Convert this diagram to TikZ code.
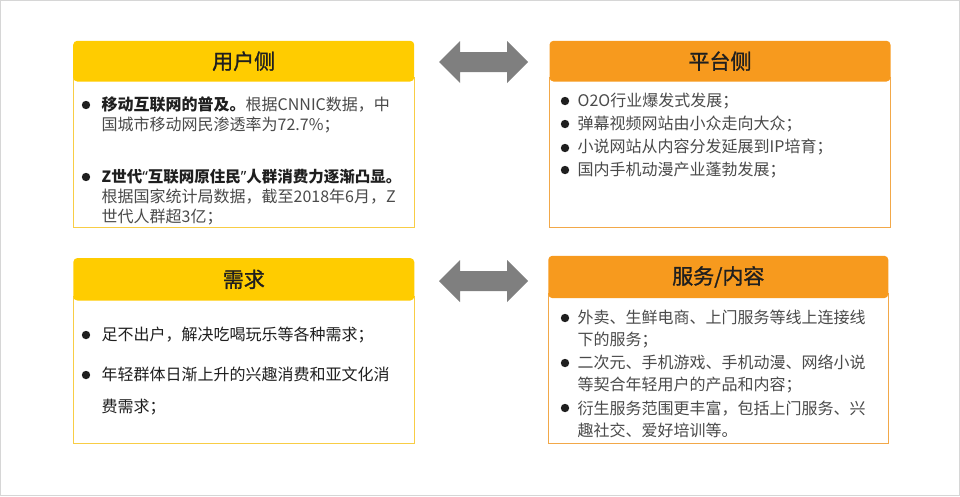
\documentclass[tikz,border=0pt]{standalone}
\usepackage{fontspec}
\setmainfont{Noto Sans CJK SC}
\newfontfamily\latin{Noto Sans}
\newfontfamily\hdfont{Noto Sans CJK SC}[FakeBold=1.2]
\usetikzlibrary{positioning}
\definecolor{ylw}{HTML}{FFCC00}
\definecolor{org}{HTML}{F79A1E}
\definecolor{ylwl}{HTML}{F8CD45}
\definecolor{orgl}{HTML}{F2A849}
\definecolor{arrg}{HTML}{7F7F7F}
\definecolor{txt}{HTML}{4A4A4A}
\definecolor{dark}{HTML}{1F1F1F}
\definecolor{framec}{HTML}{D6D6D6}
\tikzset{
  head/.style={rounded corners=4pt,minimum width=341pt,inner sep=0pt,font=\hdfont\fontsize{21}{24}\selectfont,text=dark},
  body/.style={draw,line width=1pt,minimum width=341pt,inner sep=0pt,fill=white,anchor=north},
  item/.style={anchor=west,align=left,inner sep=0pt,text=txt}
}
\newcommand{\dbl}[1]{\fill[arrg,shift={(#1)}] (-44.5,0)--(-23.5,-21)--(-23.5,-10)--(23.5,-10)--(23.5,-21)--(44.5,0)
  --(23.5,21)--(23.5,10)--(-23.5,10)--(-23.5,21)--cycle;}

\begin{document}
\begin{tikzpicture}[x=1pt,y=-1pt]
\useasboundingbox (0,0) rectangle (960,496);
\draw[framec] (0.5,0.5) rectangle (959.5,495.5);
% user side
\node[body,draw=ylwl,minimum height=150pt] (userb) at (243.7,76.7) {};
\node[head,fill=ylw,minimum height=40.7pt,above=-5pt of userb.north] (userh) {用户侧};
% platform side
\node[body,draw=orgl,minimum height=150pt] (platb) at (720,76.7) {};
\node[head,fill=org,minimum height=40.7pt,above=-5pt of platb.north] (plath) {平台侧};
% demand
\node[body,draw=ylwl,minimum height=147.6pt] (needb) at (243.8,295.7) {};
\node[head,fill=ylw,minimum height=42.4pt,above=-5pt of needb.north] (needh) {需求};
% service / content
\node[body,draw=orgl,minimum height=149.4pt,minimum width=340pt] (servb) at (718.3,293.3) {};
\node[head,fill=org,minimum height=42.3pt,minimum width=340pt,above=-5pt of servb.north] (servh) {服务/内容};
% arrows
\coordinate (arrtop) at (483.5,62);
\coordinate (arrbot) at (483.5,281);
\dbl{arrtop} \dbl{arrbot}
% bullets
\foreach \xx/\yy in {86/105,86/177,86/335,86/375,565/101,565/124,565/148,565/170,565/318,565/363,565/408}
  \fill[dark] (\xx,\yy) circle (4.2);
% texts
\node[item,font=\fontsize{16}{20}\selectfont] (u1) at (101.5,115) {\textbf{\color{dark}移动互联网的普及。}根据CNNIC数据，中\\国城市移动网民渗透率为72.7\%；};
\node[item,font=\fontsize{16}{20}\selectfont] (u2) at (101.5,197) {\textbf{\color{dark}\fontsize{15.5}{20}\selectfont Z世代{\latin “}互联网原住民{\latin ”}人群消费力逐渐凸显。}\\根据国家统计局数据，截至2018年6月，Z\\世代人群超3亿；};
\node[item,font=\fontsize{16}{23.1}\selectfont] (p1) at (577.5,135.5) {O2O行业爆发式发展；\\弹幕视频网站由小众走向大众；\\小说网站从内容分发延展到IP培育；\\国内手机动漫产业蓬勃发展；};
\node[item,text=dark,font=\fontsize{16}{20}\selectfont] (n1) at (101.5,335) {足不出户，解决吃喝玩乐等各种需求；};
\node[item,text=dark,font=\fontsize{16}{32}\selectfont] (n2) at (101.5,391) {年轻群体日渐上升的兴趣消费和亚文化消\\费需求；};
\node[item,font=\fontsize{16}{22}\selectfont] (s1) at (577.5,329) {外卖、生鲜电商、上门服务等线上连接线\\下的服务；};
\node[item,font=\fontsize{16}{22}\selectfont] (s2) at (577.5,374) {二次元、手机游戏、手机动漫、网络小说\\等契合年轻用户的产品和内容；};
\node[item,font=\fontsize{16}{22}\selectfont] (s3) at (577.5,419) {衍生服务范围更丰富，包括上门服务、兴\\趣社交、爱好培训等。};
\end{tikzpicture}
\end{document}
